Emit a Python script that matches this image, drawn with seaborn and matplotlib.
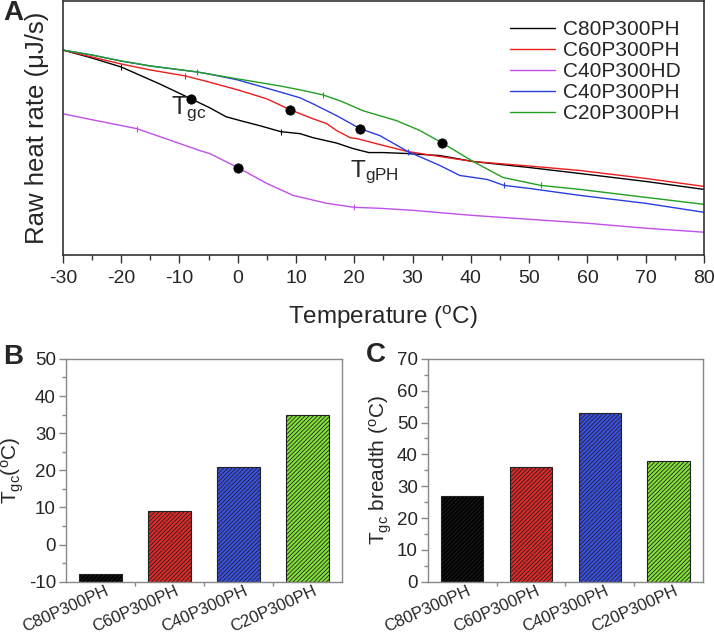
import numpy as np
import matplotlib
matplotlib.use('Agg')
import matplotlib.pyplot as plt
import matplotlib.transforms as mtransforms
from matplotlib.lines import Line2D
from matplotlib.ticker import MultipleLocator, FixedLocator
import seaborn as sns

# ---- panel A: raw heat rate curves (arbitrary units)
t_c80 = [-30, -25, -20, -13.4, -8, -4.8, -2, 0.5, 3.8, 7.4, 10.7, 12.9, 17, 19.8, 22.5, 25, 29.2, 34.7, 40.4, 50, 58.7, 70, 80]
h_c80 = [206, 198, 189, 172, 157, 148, 139, 135, 130, 124, 122, 118, 112.5, 107, 103, 103, 102, 100, 94, 88, 82, 74, 66]

t_c60 = [-30, -25, -20, -15, -9, -5, 0, 5, 9, 12.9, 15.3, 17, 19.3, 20.5, 24.4, 29.2, 34.7, 40.4, 50, 58.7, 70, 80]
h_c60 = [206, 199, 192, 186, 180, 174, 166, 157, 146, 137, 132, 125, 118, 117, 111, 104, 99, 94, 89.5, 85, 77, 69]

t_c40hd = [-30, -25, -17.3, -10.4, -6.5, -4.8, 0, 5, 9.5, 15.3, 20, 24.4, 30, 40, 50, 60, 70, 80]
h_c40hd = [142, 136, 127, 113, 105, 102, 88, 72, 60, 52, 48, 47, 45, 40, 36, 32, 27, 23]

t_c40 = [-30, -25, -20, -15, -7, -5, 0, 3, 7.2, 10.7, 12.9, 17, 21, 24.4, 29.2, 34.7, 38.1, 42.8, 45.7, 50, 58.7, 70, 80]
h_c40 = [206, 201, 195, 190, 184, 182, 176, 171, 164, 158, 152, 140, 127, 120, 104, 90, 80, 76, 70, 67, 60, 52, 43]

t_c20 = [-30, -25, -20, -15, -7, 0, 7.2, 10.7, 14.6, 18, 21.5, 27.3, 31.3, 35, 40.4, 45.5, 52, 58.7, 70, 80]
h_c20 = [206, 201, 195, 190, 184, 177, 170, 166, 161, 154, 145, 135, 125, 113, 94, 78, 70, 66, 58, 51]

# small tick marks along the curves and the Tgc dots
ticks_c80 = [-20, 7.4]
ticks_c60 = [-9]
ticks_c40hd = [-17.3, 20]
ticks_c40 = [29.2, 45.7]
ticks_c20 = [-7, 14.6, 52]
tgc_c40hd = 0

# ---- panels B and C
samples = ['C80P300PH', 'C60P300PH', 'C40P300PH', 'C20P300PH']
tgc = [-8, 9, 21, 35]
tgc_breadth = [27, 36, 53, 38]
bar_colors = ['#000000', '#ff0a0a', '#1e3cff', '#80ff1a']

sns.set_theme(style='ticks')
plt.rcParams['font.family'] = ['Liberation Sans', 'DejaVu Sans']
plt.rcParams['axes.unicode_minus'] = False
plt.rcParams['hatch.linewidth'] = 0.6

fig = plt.figure(figsize=(7.14, 6.33), dpi=100)
axA = fig.add_axes([0.088, 0.597, 0.898, 0.401])
axB = fig.add_axes([0.092, 0.081, 0.387, 0.352])
axC = fig.add_axes([0.599, 0.081, 0.386, 0.352])

curves = [
    ('C80P300PH', t_c80, h_c80, '#000000', ticks_c80, tgc[0]),
    ('C60P300PH', t_c60, h_c60, '#ee1c1c', ticks_c60, tgc[1]),
    ('C40P300HD', t_c40hd, h_c40hd, '#c050e8', ticks_c40hd, tgc_c40hd),
    ('C40P300PH', t_c40, h_c40, '#2a3ee0', ticks_c40, tgc[2]),
    ('C20P300PH', t_c20, h_c20, '#22a022', ticks_c20, tgc[3]),
]

dot_x, dot_y = [], []
for name, t, h, c, tk, tg in curves:
    t = np.array(t)
    h = np.array(h)
    sns.lineplot(x=t, y=h, color=c, lw=1.0, ax=axA, sort=False)
    idx = [int(np.argmin(np.abs(t - v))) for v in tk]
    axA.plot(t[idx], h[idx], ls='none', marker='|', ms=5, mew=0.8, color=c)
    j = int(np.argmin(np.abs(t - tg)))
    dot_x.append(t[j])
    dot_y.append(h[j])
sns.scatterplot(x=dot_x, y=dot_y, color='black', s=45, edgecolor='black', ax=axA, zorder=5)

axA.set_xlim(-30, 80)
axA.set_ylim(0, 255)
axA.xaxis.set_major_locator(MultipleLocator(10))
axA.xaxis.set_minor_locator(MultipleLocator(5))
axA.set_yticks([])
axA.tick_params(axis='x', which='major', length=6, width=1, labelsize=14, color='#333333', pad=5)
axA.tick_params(axis='x', which='minor', length=3.5, width=1, color='#333333')
for s in axA.spines.values():
    s.set_color('#333333')
    s.set_linewidth(1.2)
axA.set_xlabel(r'Temperature ($\mathregular{^oC}$)', fontsize=17.5, labelpad=12)
axA.set_ylabel(r'Raw heat rate (μJ/s)', fontsize=18.5, labelpad=10)
axA.text(-11.4, 142, r'$\mathregular{T_{gc}}$', fontsize=18, ha='left', va='baseline')
axA.text(19.2, 78, r'$\mathregular{T_{gPH}}$', fontsize=17.5, ha='left', va='baseline')
handles = [Line2D([], [], color=c, lw=1.0) for _, _, _, c, _, _ in curves]
axA.legend(handles, [n for n, *_ in curves], loc='upper left', frameon=False,
           fontsize=15, handlelength=2.16, handletextpad=0.38, labelspacing=0.1,
           borderaxespad=0, borderpad=0, bbox_to_anchor=(0.697, 0.927))

shift = mtransforms.ScaledTranslation(5 / 100, 0, fig.dpi_scale_trans)


def bar_panel(ax, vals, ymin, ymax, ylabel):
    sns.barplot(x=samples, y=vals, hue=samples, palette=bar_colors, legend=False,
                width=0.62, edgecolor='#222222', linewidth=0.8, ax=ax)
    for p in ax.patches:
        p.set_hatch('////////')
        # bars start at the bottom of the axis
        top = p.get_y() + p.get_height()
        p.set_y(ymin)
        p.set_height(top - ymin)
    ax.set_xlim(-0.5, 3.5)
    ax.set_ylim(ymin, ymax)
    ax.yaxis.set_major_locator(MultipleLocator(10))
    ax.yaxis.set_minor_locator(MultipleLocator(5))
    ax.xaxis.set_minor_locator(FixedLocator([0.5, 1.5, 2.5]))
    ax.tick_params(axis='y', which='major', length=5, width=1, labelsize=13.5, color='#888888', pad=2)
    ax.tick_params(axis='y', which='minor', length=3, width=1, color='#888888')
    ax.tick_params(axis='x', which='major', length=0, labelsize=12, pad=1, labelrotation=24)
    ax.tick_params(axis='x', which='minor', length=3, width=1, color='#888888')
    for lab in ax.get_xticklabels():
        lab.set_ha('right')
        lab.set_va('top')
        lab.set_rotation_mode('anchor')
        lab.set_transform(lab.get_transform() + shift)
    for s in ax.spines.values():
        s.set_color('#888888')
        s.set_linewidth(1.0)
    ax.set_xlabel('')
    ax.set_ylabel(ylabel, fontsize=15, labelpad=2)


bar_panel(axB, tgc, -10, 50, r'$\mathregular{T_{gc}(^oC)}$')
bar_panel(axC, tgc_breadth, 0, 70, r'$\mathregular{T_{gc}}$ breadth ($\mathregular{^oC}$)')

fig.text(0.004, 0.979, 'A', fontsize=20, fontweight='bold', ha='left', va='center')
fig.text(0.004, 0.436, 'B', fontsize=20, fontweight='bold', ha='left', va='center')
fig.text(0.512, 0.439, 'C', fontsize=20, fontweight='bold', ha='left', va='center')

fig.savefig('out.png', dpi=100)
